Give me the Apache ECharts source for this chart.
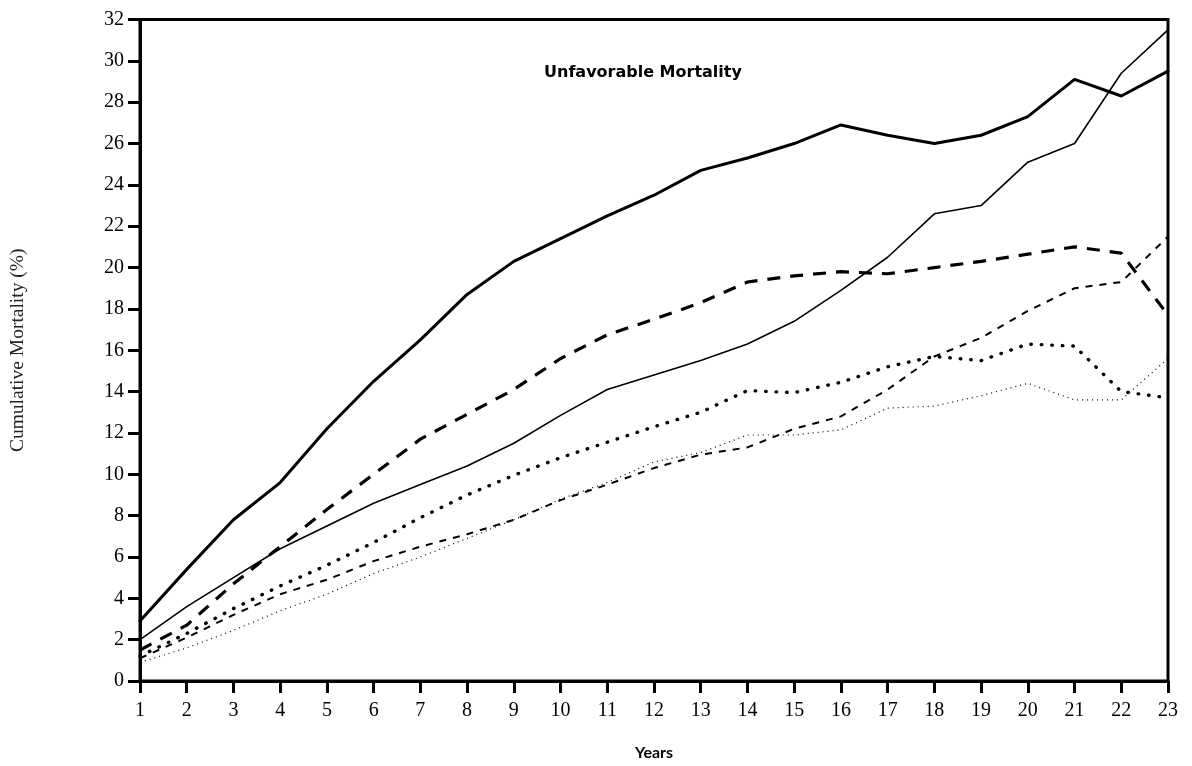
<!DOCTYPE html>
<html>
<head>
<meta charset="utf-8">
<script src="https://cdn.jsdelivr.net/npm/echarts@6/dist/echarts.min.js"></script>
<style>
html,body{margin:0;padding:0;background:#fff;}
#chart{width:1192px;height:766px;}
</style>
</head>
<body>
<div id="chart"></div>
<script>
const years = [1,2,3,4,5,6,7,8,9,10,11,12,13,14,15,16,17,18,19,20,21,22,23];
const thickSolid  = [2.9, 5.4, 7.8, 9.6, 12.2, 14.5, 16.5, 18.7, 20.3, 21.4, 22.5, 23.5, 24.7, 25.3, 26.0, 26.9, 26.4, 26.0, 26.4, 27.3, 29.1, 28.3, 29.5];
const thinSolid   = [2.0, 3.6, 5.0, 6.4, 7.5, 8.6, 9.5, 10.4, 11.5, 12.85, 14.1, 14.8, 15.5, 16.3, 17.4, 18.9, 20.5, 22.6, 23.0, 25.1, 26.0, 29.4, 31.5];
const thickDashed = [1.5, 2.7, 4.7, 6.5, 8.3, 10.0, 11.7, 12.9, 14.1, 15.6, 16.75, 17.5, 18.3, 19.3, 19.6, 19.8, 19.7, 20.0, 20.3, 20.65, 21.0, 20.7, 17.7];
const thinDashed  = [1.1, 2.1, 3.2, 4.2, 4.9, 5.8, 6.5, 7.1, 7.8, 8.75, 9.5, 10.3, 10.95, 11.3, 12.2, 12.8, 14.1, 15.7, 16.6, 17.9, 19.0, 19.3, 21.5];
const thickDotted = [1.2, 2.3, 3.5, 4.6, 5.6, 6.7, 7.9, 9.0, 9.95, 10.8, 11.55, 12.3, 13.0, 14.05, 13.95, 14.45, 15.2, 15.7, 15.5, 16.3, 16.2, 14.0, 13.7];
const thinDotted  = [0.9, 1.6, 2.45, 3.4, 4.2, 5.2, 6.0, 6.9, 7.8, 8.8, 9.6, 10.6, 11.05, 11.9, 11.9, 12.15, 13.2, 13.3, 13.8, 14.4, 13.6, 13.6, 15.6];

const titleText = 'Unfavorable Mortality';
const xName = 'Years';
const yName = 'Cumulative Mortality (%)';

function pairs(vals){ return years.map((y,i)=>[y, vals[i]]); }
function line(name, vals, width, type, cap){
  return {
    name: name, type: 'line', data: pairs(vals), symbol: 'none', smooth: false,
    lineStyle: {color:'#000', width: width, type: type, cap: cap || 'butt'},
    z: 3
  };
}

const chart = echarts.init(document.getElementById('chart'), null, {renderer:'canvas'});
chart.setOption({
  backgroundColor: '#fff',
  animation: false,
  title: {
    text: titleText, left: 539, top: 60,
    textStyle: {fontFamily: 'DejaVu Sans', fontWeight: 'bold', fontSize: 16, color: '#000'}
  },
  grid: {left: 139, right: 24, top: 19.5, bottom: 82, show: true, borderColor: '#000', borderWidth: 3, backgroundColor: 'transparent'},
  xAxis: {
    type: 'value', min: 1, max: 23, interval: 1,
    name: xName, nameLocation: 'middle', nameGap: 64,
    nameTextStyle: {fontFamily: 'Lato', fontWeight: 'bold', fontSize: 16, color: '#000'},
    axisLine: {show: true, lineStyle: {color: '#000', width: 3}},
    axisTick: {show: true, inside: false, length: 12, lineStyle: {color: '#000', width: 3}},
    axisLabel: {color: '#000', fontFamily: 'Liberation Serif', fontSize: 20, margin: 20},
    splitLine: {show: false}
  },
  yAxis: {
    type: 'value', min: 0, max: 32, interval: 2,
    name: yName, nameLocation: 'middle', nameGap: 112, nameRotate: 90,
    nameTextStyle: {fontFamily: 'Liberation Serif', fontSize: 19.5, color: '#222'},
    axisLine: {show: true, lineStyle: {color: '#000', width: 3}},
    axisTick: {show: true, inside: false, length: 12, lineStyle: {color: '#000', width: 3}},
    axisLabel: {color: '#000', fontFamily: 'Liberation Serif', fontSize: 20, margin: 16},
    splitLine: {show: false}
  },
  series: [
    line('Thick solid', thickSolid, 3, 'solid', 'round'),
    line('Thin solid', thinSolid, 1.6, 'solid', 'round'),
    line('Thick dashed', thickDashed, 3.2, [13, 10]),
    line('Thin dashed', thinDashed, 2, [7, 7]),
    line('Thick dotted', thickDotted, 3.4, [0.5, 10], 'round'),
    line('Thin dotted', thinDotted, 1.2, [1, 4])
  ]
});
</script>
</body>
</html>
